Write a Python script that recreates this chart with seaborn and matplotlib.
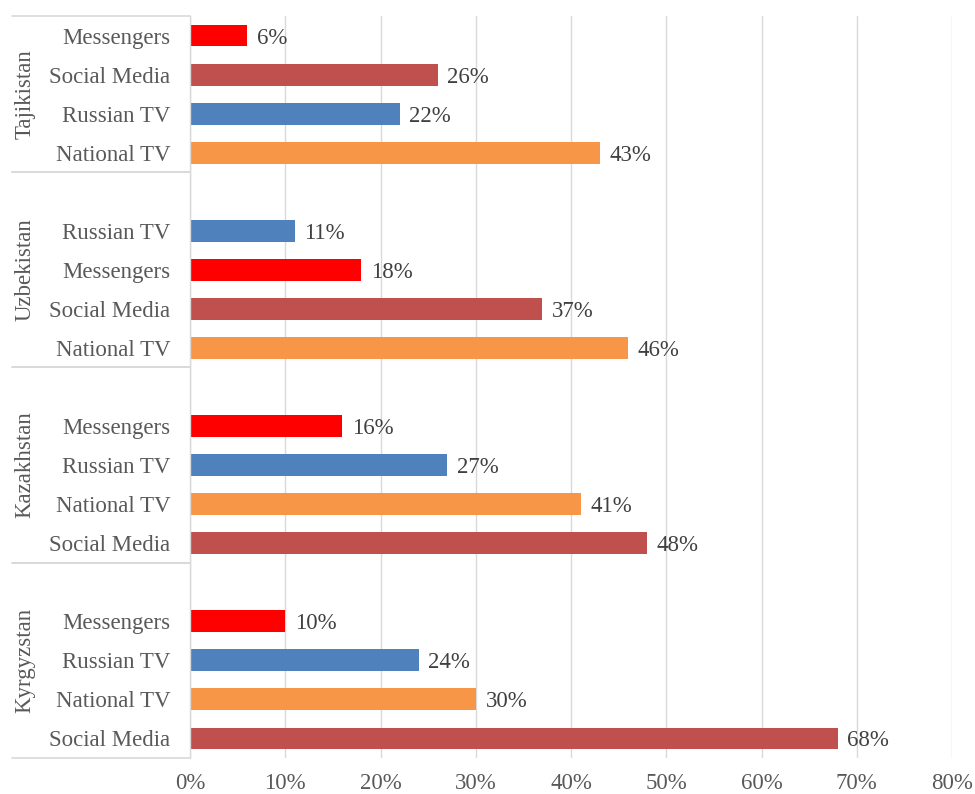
import matplotlib
matplotlib.use("Agg")
import matplotlib.pyplot as plt
import matplotlib.transforms as mtransforms
import seaborn as sns
import pandas as pd

countries = ["Tajikistan", "Uzbekistan", "Kazakhstan", "Kyrgyzstan"]
tajikistan_media = ["Messengers", "Social Media", "Russian TV", "National TV"]
tajikistan_values = [0.06, 0.26, 0.22, 0.43]
uzbekistan_media = ["Russian TV", "Messengers", "Social Media", "National TV"]
uzbekistan_values = [0.11, 0.18, 0.37, 0.46]
kazakhstan_media = ["Messengers", "Russian TV", "National TV", "Social Media"]
kazakhstan_values = [0.16, 0.27, 0.41, 0.48]
kyrgyzstan_media = ["Messengers", "Russian TV", "National TV", "Social Media"]
kyrgyzstan_values = [0.10, 0.24, 0.30, 0.68]
x_ticks = [0, 0.1, 0.2, 0.3, 0.4, 0.5, 0.6, 0.7, 0.8]
x_tick_labels = ["0%", "10%", "20%", "30%", "40%", "50%", "60%", "70%", "80%"]

colors = {"Messengers": "#FF0000", "Social Media": "#C0504D",
          "Russian TV": "#4F81BD", "National TV": "#F79646"}

groups = [(countries[0], tajikistan_media, tajikistan_values, False),
          (countries[1], uzbekistan_media, uzbekistan_values, True),
          (countries[2], kazakhstan_media, kazakhstan_values, True),
          (countries[3], kyrgyzstan_media, kyrgyzstan_values, True)]

rows = []
order = []
ylabels = []
group_bounds = []
for country, media, vals, blank in groups:
    start = len(order)
    if blank:
        order.append(f"{country}|")
        ylabels.append("")
    for m, v in zip(media, vals):
        key = f"{country}|{m}"
        order.append(key)
        ylabels.append(m)
        rows.append({"slot": key, "media": m, "value": v, "country": country})
    group_bounds.append((start - 0.5, len(order) - 0.5))
df = pd.DataFrame(rows)

sns.set_style("white")
plt.rcParams["font.family"] = ["Liberation Serif", "DejaVu Serif"]

FS = 16.5
fig = plt.figure(figsize=(9.75, 7.94), dpi=100)
ax = fig.add_axes([190 / 975, 1 - 758 / 794, 762 / 975, 742 / 794])

sns.barplot(data=df, x="value", y="slot", hue="media", order=order,
            palette=colors, dodge=False, width=0.56, legend=False, ax=ax,
            saturation=1, edgecolor="none")

for cont in ax.containers:
    texts = ax.bar_label(cont, fmt="{:.0%}", padding=7, fontsize=FS, color="#404040")
    for t in texts:
        t.set_va("center_baseline")

ax.set_xlim(0, 0.8)
ax.set_ylim(len(order) - 0.5, -0.5)
ax.set_xticks(x_ticks)
ax.set_xticklabels(x_tick_labels, fontsize=FS, color="#595959")
ax.set_yticks(range(len(order)))
ax.set_yticklabels(ylabels, fontsize=FS, color="#595959")
for t in ax.get_yticklabels():
    t.set_va("center_baseline")
ax.tick_params(axis="both", length=0)
ax.tick_params(axis="y", pad=14)
ax.tick_params(axis="x", pad=11)
ax.set_xlabel("")
ax.set_ylabel("")
ax.grid(axis="x", color="#D9D9D9", linewidth=1)
ax.set_axisbelow(True)
for s in ["top", "right", "bottom"]:
    ax.spines[s].set_visible(False)
ax.spines["left"].set_color("#D9D9D9")
ax.spines["left"].set_linewidth(1)

trans = mtransforms.blended_transform_factory(ax.transAxes, ax.transData)
x_left = (12 - 190) / 762
x_label = (25 - 190) / 762
for (country, _, _, _), (y0, y1) in zip(groups, group_bounds):
    for yy in (y0, y1):
        ax.plot([x_left, 0], [yy, yy], transform=trans, color="#D9D9D9",
                linewidth=1.2, clip_on=False)
    ax.text(x_label, (y0 + y1) / 2, country, transform=trans, rotation=90,
            ha="center", va="center", fontsize=FS, color="#595959")

fig.savefig("out.png", dpi=100)
